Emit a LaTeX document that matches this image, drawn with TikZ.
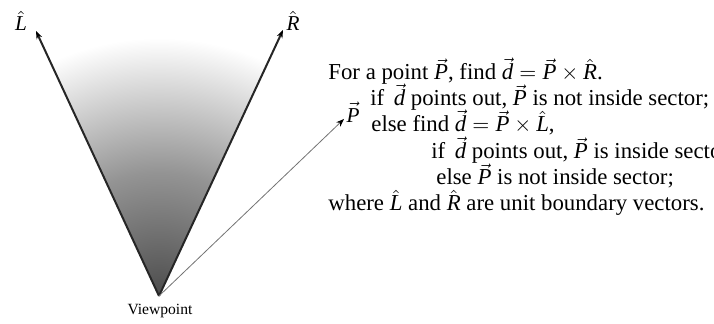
\documentclass[tikz,border=0pt]{standalone}
\usepackage{amsmath}
\usepackage{fontspec}
\setmainfont{Liberation Serif}
\usetikzlibrary{arrows.meta}

\newcommand{\vecit}[1]{\ensuremath{\vec{\textit{#1}}}}
\newcommand{\hatit}[1]{\ensuremath{\hat{\textit{#1}}}}
\pgfdeclareradialshading{sectorfade}{\pgfpoint{0bp}{0bp}}%
  {color(0bp)=(black!70); color(12bp)=(black!42); color(25bp)=(white); color(50bp)=(white)}

\begin{document}
\begin{tikzpicture}[x=0.5pt,y=-0.5pt]
\useasboundingbox (0,0) rectangle (714,324);
\coordinate (view) at (159,296);
\coordinate (lend) at (36,31);
\coordinate (rend) at (283,30);
\coordinate (pend) at (344,119);
% shaded sector
\begin{scope}
    \clip (view) -- (lend) -- (rend) -- cycle;
    \shade [shading=sectorfade] (view) circle (258);
\end{scope}
\begin{scope}[every node/.style={inner sep=0pt,font=\fontsize{10.6}{12}\selectfont}]
    \node (lhat) at (21,21) {\hatit{L}};
    \node (rhat) at (293,21) {\hatit{R}};
    \node (plab) at (353,112) {\vecit{P}};
    \node [anchor=base,font=\fontsize{7.8}{9}\selectfont] (viewlab) at (160,315) {Viewpoint};
\end{scope}
\begin{scope}[>={Stealth[black,length=4pt,width=3pt]},
              bound_edge/.style={draw=black!85,line width=1pt},
              point_edge/.style={draw=black!55,line width=0.4pt}]
    \path [->] (view) edge [bound_edge] (lend);
    \path [->] (view) edge [bound_edge] (rend);
    \path [->] (view) edge [point_edge] (pend);
\end{scope}
% the test
\begin{scope}[every node/.style={anchor=base west,inner sep=0pt,font=\fontsize{11.4}{13}\selectfont}]
    \node (find) at (328,80) {For a point \vecit{P}, find $\vecit{d}=\vecit{P}\times\hatit{R}$.};
    \node (ifout) at (370,106) {if \,\vecit{d} points out, \vecit{P} is not inside sector;};
    \node (elsefind) at (371,132) {else find $\vecit{d}=\vecit{P}\times\hatit{L}$,};
    \node (ifin) at (431,159) {if \,\vecit{d} points out, \vecit{P} is inside sector;};
    \node (elsenot) at (436,185) {else \vecit{P} is not inside sector;};
    \node (where) at (328,211) {where \hatit{L} and \hatit{R} are unit boundary vectors.};
\end{scope}
\end{tikzpicture}
\end{document}
